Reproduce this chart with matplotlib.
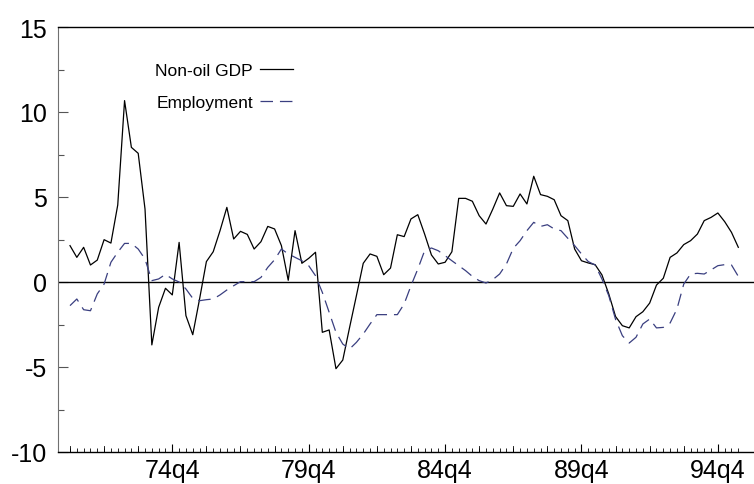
import numpy as np
import matplotlib
matplotlib.use("Agg")
import matplotlib.pyplot as plt
from matplotlib.ticker import FixedLocator, MultipleLocator, FuncFormatter

plt.rcParams['font.family'] = ['Liberation Sans', 'DejaVu Sans']
plt.rcParams['axes.unicode_minus'] = False
plt.rcParams['lines.scale_dashes'] = False

# quarterly growth rates, 71q1 .. 95q3
start_year, start_q = 1971, 1
gdp = [2.14, 1.45, 2.04, 1.0, 1.29, 2.49, 2.29, 4.53, 10.67, 7.92,
       7.57, 4.29, -3.7, -1.49, -0.37, -0.76, 2.33, -1.98, -3.1, -1.0,
       1.2, 1.78, 3.02, 4.39, 2.53, 2.98, 2.8, 1.94, 2.37, 3.27,
       3.12, 2.14, 0.1, 3.02, 1.1, 1.39, 1.75, -2.96, -2.82, -5.1,
       -4.59, -2.67, -0.8, 1.1, 1.65, 1.51, 0.43, 0.82, 2.78, 2.67,
       3.71, 3.96, 2.82, 1.59, 1.06, 1.16, 1.78, 4.92, 4.92, 4.75,
       3.9, 3.41, 4.29, 5.24, 4.49, 4.45, 5.18, 4.59, 6.22, 5.14,
       5.04, 4.84, 3.9, 3.61, 1.94, 1.25, 1.12, 1.02, 0.42, -0.7,
       -2.03, -2.57, -2.7, -2.04, -1.75, -1.24, -0.18, 0.22, 1.45, 1.71,
       2.2, 2.43, 2.82, 3.61, 3.8, 4.06, 3.55, 2.92, 2.04]
employment = [-1.39, -1.0, -1.63, -1.69, -0.7, -0.12, 1.16, 1.75, 2.27, 2.27,
              1.94, 1.35, 0.08, 0.18, 0.45, 0.18, 0.0, -0.41, -0.96, -1.1,
              -1.04, -1.0, -0.76, -0.47, -0.22, 0.02, 0.02, 0.02, 0.27, 0.86,
              1.31, 1.94, 1.65, 1.45, 1.25, 0.96, 0.37, -0.61, -1.78, -2.96,
              -3.65, -3.94, -3.55, -3.06, -2.47, -1.92, -1.92, -1.92, -1.92, -1.29,
              -0.22, 0.76, 1.84, 2.0, 1.84, 1.55, 1.25, 0.96, 0.67, 0.33,
              0.08, -0.06, 0.14, 0.47, 1.06, 1.98, 2.43, 3.02, 3.51, 3.27,
              3.37, 3.12, 3.02, 2.57, 2.14, 1.65, 1.2, 1.0, 0.18, -0.8,
              -2.2, -3.16, -3.59, -3.25, -2.47, -2.18, -2.7, -2.67, -2.41, -1.59,
              -0.12, 0.47, 0.51, 0.47, 0.71, 0.96, 1.02, 1.0, 0.33]
x_labels = ['74q4', '79q4', '84q4', '89q4', '94q4']
y_ticks = [-10, -5, 0, 5, 10, 15]

def quarter_name(i):
    q = start_q - 1 + i
    return '%02dq%d' % ((start_year + q // 4) % 100, q % 4 + 1)

n = len(gdp)
names = [quarter_name(i) for i in range(n)]
idx = np.arange(n)

fig = plt.figure(figsize=(7.54, 4.85), dpi=100)
ax = fig.add_axes([58/754, 32/485, 696/754, 425/485])

ax.axhline(0, color='black', lw=1.0)
ax.plot(idx, gdp, color='black', lw=0.9, label='Non-oil GDP')
ax.plot(idx, employment, color='#3a3f80', lw=0.9, dashes=(9, 5), label='Employment')

ax.set_xlim(-1.76, 100.3)
ax.set_ylim(-10, 15)

ax.yaxis.set_major_locator(FixedLocator(y_ticks))
ax.yaxis.set_minor_locator(MultipleLocator(2.5))
ax.yaxis.set_major_formatter(FuncFormatter(lambda v, p: '%d' % v))

label_pos = [names.index(s) for s in x_labels]
ax.xaxis.set_major_locator(FixedLocator(label_pos))
ax.xaxis.set_major_formatter(FuncFormatter(lambda v, p: names[int(round(v))]))
ax.xaxis.set_minor_locator(FixedLocator([i for i in idx if i not in label_pos]))

ax.tick_params(axis='y', which='major', direction='in', length=7, width=0.8,
               labelsize=18, pad=8, color='#555555')
ax.tick_params(axis='y', which='minor', direction='in', length=4, width=0.8, color='#555555')
ax.tick_params(axis='x', which='major', direction='in', length=6, width=0.8,
               labelsize=18, pad=4)
ax.tick_params(axis='x', which='minor', direction='in', length=3, width=0.6)

# taller ticks every five quarters
for i in idx:
    if i % 5 == 0 and i not in label_pos:
        ax.plot([i, i], [-10, -9.65], color='black', lw=0.6, clip_on=False)

ax.spines['right'].set_visible(False)
ax.spines['left'].set_color('#707070')
ax.spines['top'].set_linewidth(1.0)
ax.spines['bottom'].set_linewidth(1.0)

leg = ax.legend(loc='upper right', bbox_to_anchor=(293/754, (485 - 64)/485),
                bbox_transform=fig.transFigure, frameon=False, markerfirst=False,
                fontsize=12.5, handlelength=1.9, handletextpad=0.4,
                labelspacing=0.98, borderpad=0, borderaxespad=0)

fig.savefig('out.png', dpi=100)
